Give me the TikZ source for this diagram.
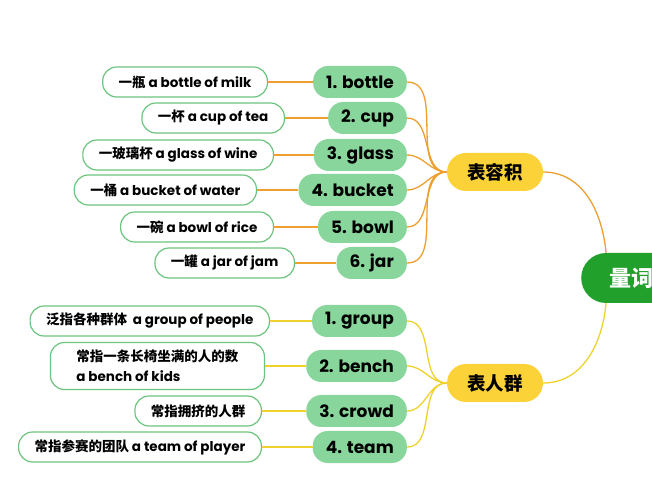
\documentclass[tikz,border=0pt]{standalone}
\usepackage{fontspec}
\setmainfont{Poppins}
\newfontfamily\cjk{Noto Sans CJK SC}
\definecolor{leafgreen}{HTML}{6CC47F}
\definecolor{itemgreen}{HTML}{88D69C}
\definecolor{hubyellow}{HTML}{FBD238}
\definecolor{rootgreen}{HTML}{22A02C}
\definecolor{twigorange}{HTML}{EDA030}
\definecolor{twigyellow}{HTML}{F0D22C}
\tikzset{
  leaf/.style={draw=leafgreen,line width=1.2pt,fill=white,rounded corners=14pt,
    minimum height=30pt,inner xsep=16pt,anchor=east,
    font=\fontsize{13.5}{20}\selectfont\bfseries},
  item/.style={fill=itemgreen,rounded corners=15pt,minimum height=32pt,
    inner xsep=13pt,anchor=east,font=\fontsize{17}{19}\selectfont\bfseries},
  hub/.style={fill=hubyellow,rounded corners=19pt,minimum width=96pt,
    minimum height=38pt,font=\cjk\fontsize{18.5}{20}\selectfont\bfseries},
  root/.style={fill=rootgreen,rounded corners=25pt,minimum width=100pt,
    minimum height=50pt,anchor=west,text=white,
    font=\cjk\fontsize{22}{24}\selectfont\bfseries},
  otwig/.style={draw=twigorange,line width=1.3pt},
  ytwig/.style={draw=twigyellow,line width=1.3pt}
}
\begin{document}
\begin{tikzpicture}[x=1pt,y=1pt]
\clip (0,0) rectangle (652,500);
\fill[white] (0,0) rectangle (652,500);
% root and hubs
\node[root] (root) at (581,222) {量词};
\node[hub] (vol) at (495,328) {表容积};
\node[hub] (crowd) at (495,117) {表人群};
% containers
\node[item] (bottle) at (407,418) {1. bottle};
\node[item] (cup) at (407,382) {2. cup};
\node[item] (glass) at (407,345) {3. glass};
\node[item] (bucket) at (407,310) {4. bucket};
\node[item] (bowl) at (407,273) {5. bowl};
\node[item] (jar) at (407,237) {6. jar};
\node[leaf] (lbottle) at (268,418) {{\cjk 一瓶} a bottle of milk};
\node[leaf] (lcup) at (285,382) {{\cjk 一杯} a cup of tea};
\node[leaf] (lglass) at (274,345) {{\cjk 一玻璃杯} a glass of wine};
\node[leaf] (lbucket) at (257,310) {{\cjk 一桶} a bucket of water};
\node[leaf] (lbowl) at (274,273) {{\cjk 一碗} a bowl of rice};
\node[leaf] (ljar) at (295,237) {{\cjk 一罐} a jar of jam};
% people
\node[item] (group) at (407,179) {1. group};
\node[item] (bench) at (407,134) {2. bench};
\node[item] (crowdi) at (407,89) {3. crowd};
\node[item] (team) at (407,53) {4. team};
\node[leaf] (lgroup) at (270,179) {{\cjk 泛指各种群体}\ \ a group of people};
\node[leaf,align=left,inner xsep=26pt,minimum height=47pt] (lbench) at (265,134)
  {{\cjk 常指一条长椅坐满的人的数}\\a bench of kids};
\node[leaf] (lcrowd) at (262,89) {{\cjk 常指拥挤的人群}};
\node[leaf] (lteam) at (262,53) {{\cjk 常指参赛的团队} a team of player};
% connectors
\draw[otwig] (vol.east) to[out=0,in=95] ([xshift=25pt]root.north west);
\draw[ytwig] (crowd.east) to[out=0,in=-95] ([xshift=25pt]root.south west);
\draw[otwig] (lbottle) -- (bottle);
\draw[otwig] (lcup) -- (cup);
\draw[otwig] (lglass) -- (glass);
\draw[otwig] (lbucket) -- (bucket);
\draw[otwig] (lbowl) -- (bowl);
\draw[otwig] (ljar) -- (jar);
\draw[otwig] (bottle.east) to[out=0,in=180] (vol.west);
\draw[otwig] (cup.east) to[out=0,in=180] (vol.west);
\draw[otwig] (glass.east) to[out=0,in=180] (vol.west);
\draw[otwig] (bucket.east) to[out=0,in=180] (vol.west);
\draw[otwig] (bowl.east) to[out=0,in=180] (vol.west);
\draw[otwig] (jar.east) to[out=0,in=180] (vol.west);
\draw[ytwig] (lgroup) -- (group);
\draw[ytwig] (lbench) -- (bench);
\draw[ytwig] (lcrowd) -- (crowdi);
\draw[ytwig] (lteam) -- (team);
\draw[ytwig] (group.east) to[out=0,in=180] (crowd.west);
\draw[ytwig] (bench.east) to[out=0,in=180] (crowd.west);
\draw[ytwig] (crowdi.east) to[out=0,in=180] (crowd.west);
\draw[ytwig] (team.east) to[out=0,in=180] (crowd.west);
\end{tikzpicture}
\end{document}
